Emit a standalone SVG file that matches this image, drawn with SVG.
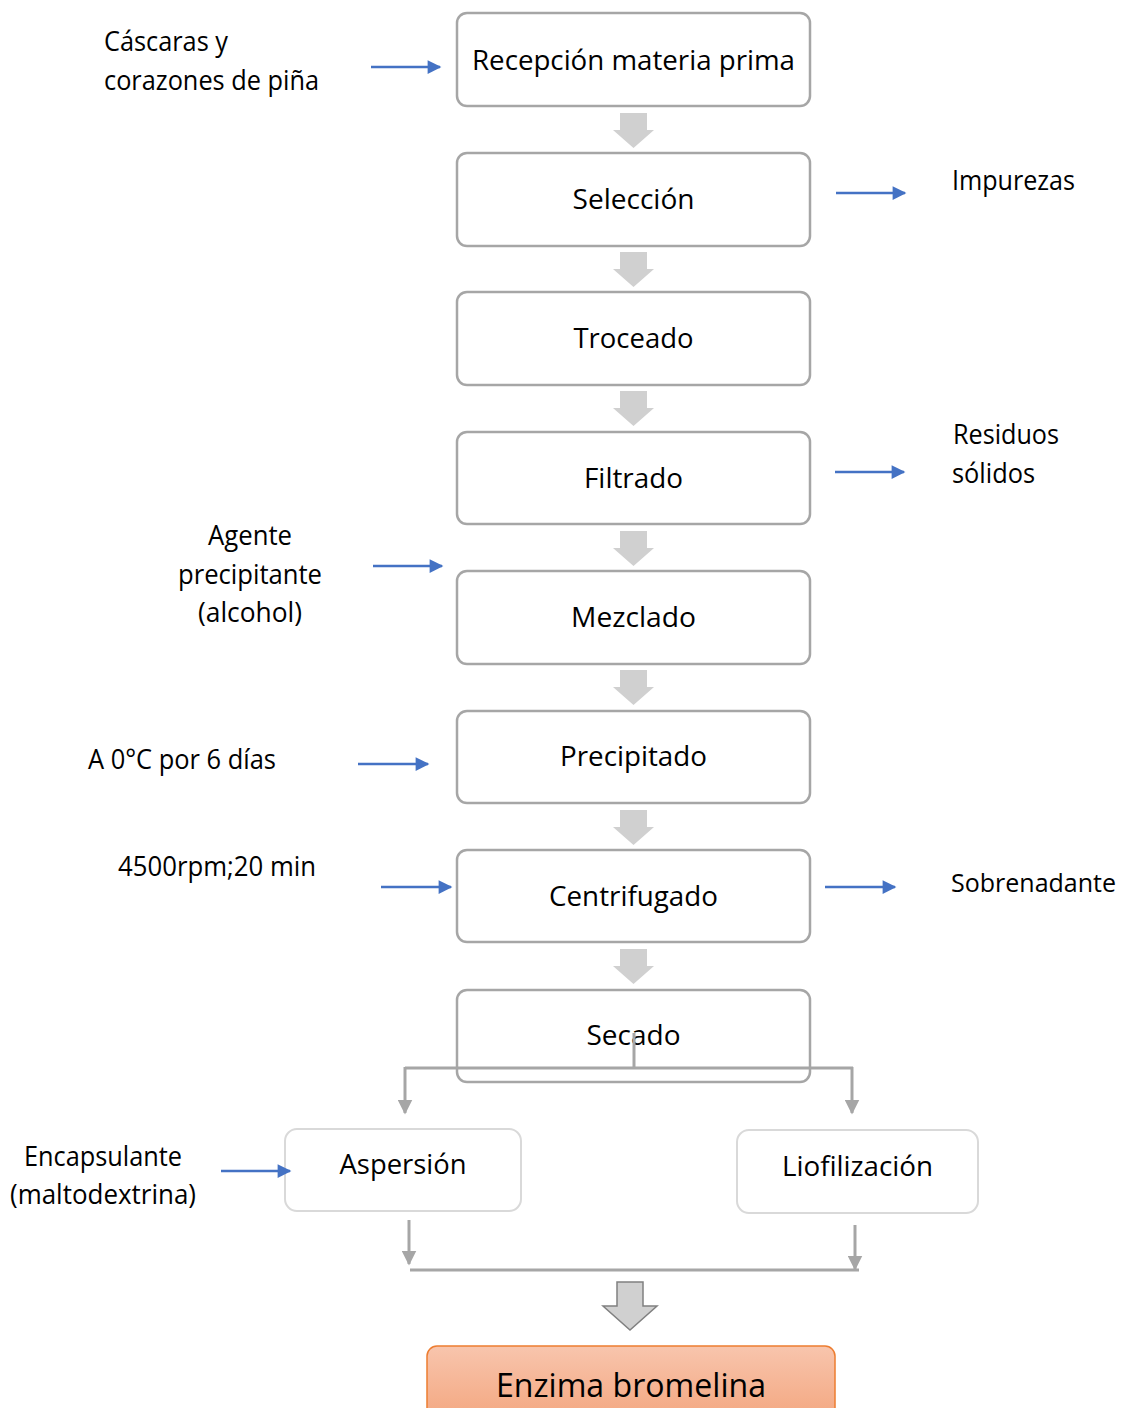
<svg xmlns="http://www.w3.org/2000/svg" width="1125" height="1408" viewBox="0 0 1125 1408">
<style>
text{font-family:"Open Sans","Liberation Sans",sans-serif;font-size:27px;fill:#000}
.c{text-anchor:middle}
.box{fill:#fff;stroke:#a6a6a6;stroke-width:2.5}
.sub{fill:#fff;stroke:#d9d9d9;stroke-width:2}
.blk{fill:#d0d0d0}
.blue{stroke:#4472c4;stroke-width:2.5;fill:none;marker-end:url(#bh)}
.gray{stroke:#a6a6a6;stroke-width:3;fill:none}
.garr{stroke:#a6a6a6;stroke-width:3;fill:none;marker-end:url(#gh)}
</style>
<defs>
<marker id="bh" viewBox="0 0 10 10" refX="9" refY="5" markerWidth="6" markerHeight="5.5" markerUnits="strokeWidth" orient="auto"><path d="M0,0L10,5L0,10z" fill="#4472c4"/></marker>
<marker id="gh" viewBox="0 0 10 10" refX="9" refY="5" markerWidth="5" markerHeight="5" markerUnits="strokeWidth" orient="auto"><path d="M0,0L10,5L0,10z" fill="#a6a6a6"/></marker>
<linearGradient id="og" x1="0" y1="0" x2="0" y2="1"><stop offset="0" stop-color="#f8c5ad"/><stop offset="1" stop-color="#f3a47c"/></linearGradient>
<path id="ba" d="M-13.5,0H13.5V17H20.5L0,35L-20.5,17H-13.5Z"/>
</defs>

<g id="n1"><rect class="box" x="457" y="13" width="353" height="93" rx="10"/><text class="c" x="633.5" y="70" textLength="323" lengthAdjust="spacingAndGlyphs">Recepción materia prima</text></g>
<g id="n2"><rect class="box" x="457" y="153" width="353" height="93" rx="10"/><text class="c" x="633.5" y="209" textLength="122" lengthAdjust="spacingAndGlyphs">Selección</text></g>
<g id="n3"><rect class="box" x="457" y="292" width="353" height="93" rx="10"/><text class="c" x="633.5" y="348" textLength="120" lengthAdjust="spacingAndGlyphs">Troceado</text></g>
<g id="n4"><rect class="box" x="457" y="432" width="353" height="92" rx="10"/><text class="c" x="633.5" y="488" textLength="99" lengthAdjust="spacingAndGlyphs">Filtrado</text></g>
<g id="n5"><rect class="box" x="457" y="571" width="353" height="93" rx="10"/><text class="c" x="633.5" y="627" textLength="125" lengthAdjust="spacingAndGlyphs">Mezclado</text></g>
<g id="n6"><rect class="box" x="457" y="711" width="353" height="92" rx="10"/><text class="c" x="633.5" y="766" textLength="147" lengthAdjust="spacingAndGlyphs">Precipitado</text></g>
<g id="n7"><rect class="box" x="457" y="850" width="353" height="92" rx="10"/><text class="c" x="633.5" y="906" textLength="169" lengthAdjust="spacingAndGlyphs">Centrifugado</text></g>
<g id="n8"><rect class="box" x="457" y="990" width="353" height="92" rx="10"/><text class="c" x="633.5" y="1045" textLength="94" lengthAdjust="spacingAndGlyphs">Secado</text></g>
<g id="n9"><rect class="sub" x="285" y="1129" width="236" height="82" rx="12"/><text class="c" x="403" y="1174" textLength="127" lengthAdjust="spacingAndGlyphs">Aspersión</text></g>
<g id="n10"><rect class="sub" x="737" y="1130" width="241" height="83" rx="12"/><text class="c" x="857.5" y="1176" textLength="151" lengthAdjust="spacingAndGlyphs">Liofilización</text></g>
<g id="n11"><rect x="427" y="1346" width="408" height="80" rx="10" fill="url(#og)" stroke="#ed7d31" stroke-width="1.5"/><text class="c" x="631" y="1397" style="font-size:32px" textLength="270" lengthAdjust="spacingAndGlyphs">Enzima bromelina</text></g>

<g id="labels">
<text x="104" y="51" textLength="124" lengthAdjust="spacingAndGlyphs">Cáscaras y</text>
<text x="104" y="90" textLength="215" lengthAdjust="spacingAndGlyphs">corazones de piña</text>
<text x="952" y="190" textLength="123" lengthAdjust="spacingAndGlyphs">Impurezas</text>
<text x="953" y="444" textLength="106" lengthAdjust="spacingAndGlyphs">Residuos</text>
<text x="952" y="483" textLength="83" lengthAdjust="spacingAndGlyphs">sólidos</text>
<text class="c" x="250" y="545" textLength="84" lengthAdjust="spacingAndGlyphs">Agente</text>
<text class="c" x="250" y="584" textLength="144" lengthAdjust="spacingAndGlyphs">precipitante</text>
<text class="c" x="250" y="622" textLength="104" lengthAdjust="spacingAndGlyphs">(alcohol)</text>
<text x="88" y="769" textLength="188" lengthAdjust="spacingAndGlyphs">A 0°C por 6 días</text>
<text x="118" y="876" textLength="198" lengthAdjust="spacingAndGlyphs">4500rpm;20 min</text>
<text x="951" y="892" style="font-size:26px" textLength="165" lengthAdjust="spacingAndGlyphs">Sobrenadante</text>
<text class="c" x="103" y="1166" textLength="158" lengthAdjust="spacingAndGlyphs">Encapsulante</text>
<text class="c" x="103" y="1204" textLength="186" lengthAdjust="spacingAndGlyphs">(maltodextrina)</text>
</g>

<g id="connectors">
<use href="#ba" class="blk" x="633.5" y="113"/>
<use href="#ba" class="blk" x="633.5" y="252"/>
<use href="#ba" class="blk" x="633.5" y="391"/>
<use href="#ba" class="blk" x="633.5" y="531"/>
<use href="#ba" class="blk" x="633.5" y="670"/>
<use href="#ba" class="blk" x="633.5" y="810"/>
<use href="#ba" class="blk" x="633.5" y="949"/>

<line class="blue" x1="371" y1="67" x2="440" y2="67"/>
<line class="blue" x1="836" y1="193" x2="905" y2="193"/>
<line class="blue" x1="835" y1="472" x2="904" y2="472"/>
<line class="blue" x1="373" y1="566" x2="442" y2="566"/>
<line class="blue" x1="358" y1="764" x2="428" y2="764"/>
<line class="blue" x1="381" y1="887" x2="451" y2="887"/>
<line class="blue" x1="825" y1="887" x2="895" y2="887"/>
<line class="blue" x1="221" y1="1171" x2="290" y2="1171"/>

<line class="gray" x1="634" y1="1033" x2="634" y2="1068"/>
<line class="gray" x1="405" y1="1068" x2="853" y2="1068"/>
<path class="garr" d="M405,1067V1113"/>
<path class="garr" d="M852,1067V1113"/>
<path class="garr" d="M409,1220V1264"/>
<path class="garr" d="M855,1225V1269"/>
<line class="gray" x1="410" y1="1270" x2="859" y2="1270"/>
<path d="M617,1282H643V1306H657L630,1330L603,1306H617Z" fill="#d0d0d0" stroke="#808080" stroke-width="1.5"/>
</g>
</svg>
